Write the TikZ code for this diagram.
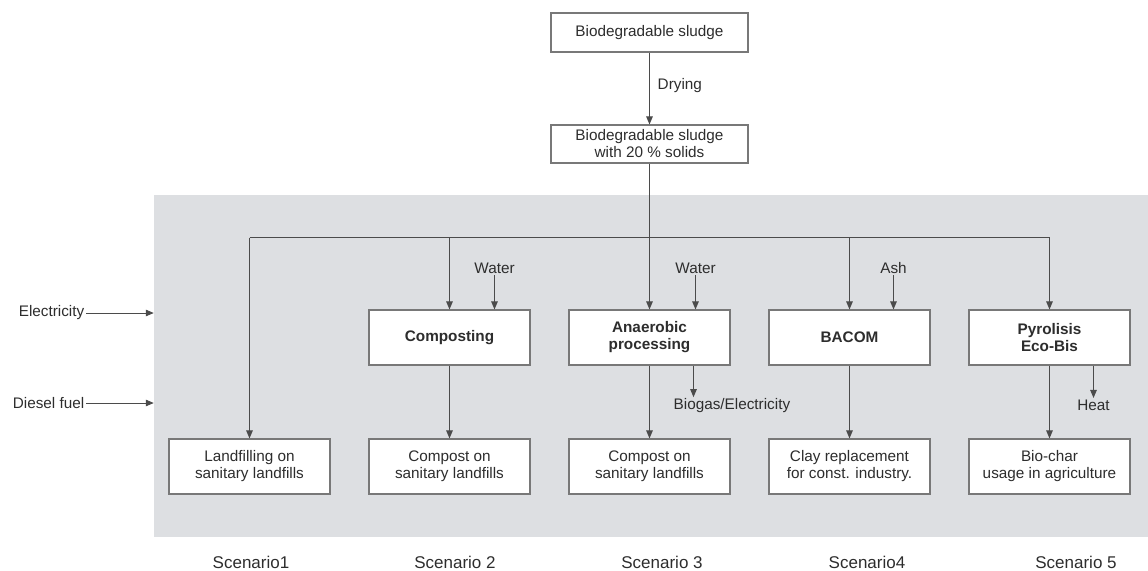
\documentclass[tikz,border=0pt]{standalone}
\usepackage{fontspec}
\setmainfont{Liberation Sans}
\usetikzlibrary{arrows.meta,calc}
\definecolor{panelgrey}{RGB}{221,223,226}
\definecolor{txt}{RGB}{45,45,45}
\definecolor{wire}{RGB}{75,75,75}
\definecolor{rim}{RGB}{120,120,120}
\begin{document}
\begin{tikzpicture}[x=1pt,y=-1pt,
  every node/.style={text=txt,font=\fontsize{15.3}{17}\selectfont,align=center,inner sep=1.5pt},
  box/.style={draw=rim,line width=1.1pt,fill=white,minimum width=161pt,minimum height=55pt,inner sep=0pt},
  topbox/.style={draw=rim,line width=1.1pt,fill=white,minimum width=197pt,inner sep=0pt},
  bold/.style={font=\fontsize{15.3}{17}\selectfont\bfseries},
  scen/.style={font=\fontsize{17}{19}\selectfont},
  conn/.style={draw=wire,line width=1pt},
  arr/.style={conn,-{Triangle[length=8pt,width=6.5pt]}},
  panel/.style={fill=panelgrey,inner sep=0pt,minimum width=994pt,minimum height=342pt}]
\useasboundingbox (0,0) rectangle (1148,570);
\node[panel] (panel) at (651,366) {};
% top chain
\node[topbox,minimum height=39pt] (sludge) at (649.5,32.5) {Biodegradable sludge};
\node[topbox,minimum height=38pt] (dried) at (649.5,144) {Biodegradable sludge\\with 20 \% solids};
\node[anchor=west] (drying) at (656,86) {Drying};
\draw[arr] (sludge.south) -- (dried.north);
% process boxes
\node[box,bold] (co) at (449.5,337.5) {Composting};
\node[box,bold] (an) at (649.5,337.5) {Anaerobic\\processing};
\node[box,bold] (ba) at (849.5,337.5) {BACOM};
\node[box,bold] (py) at (1049.5,337.5) {Pyrolisis\\Eco-Bis};
% result boxes
\node[box] (lf) at (249.5,466.5) {Landfilling on\\sanitary landfills};
\node[box] (cp2) at (449.5,466.5) {Compost on\\sanitary landfills};
\node[box] (cp3) at (649.5,466.5) {Compost on\\sanitary landfills};
\node[box] (cl) at (849.5,466.5) {Clay replacement\\for const. industry.};
\node[box] (bc) at (1049.5,466.5) {Bio-char\\usage in agriculture};
% distribution line
\coordinate (hline) at (0,237.5);
\draw[conn] (lf.north |- hline) -- (py.north |- hline);
\draw[arr] (dried.south) -- (an.north);
\draw[arr] (lf.north |- hline) -- (lf.north);
\draw[arr] (co.north |- hline) -- (co.north);
\draw[arr] (ba.north |- hline) -- (ba.north);
\draw[arr] (py.north |- hline) -- (py.north);
% inputs
\node (w1) at (494.5,268) {Water};
\node (w2) at (695.5,268) {Water};
\node (ash) at (893.5,268) {Ash};
\draw[arr] (w1.south) -- (w1.south |- co.north);
\draw[arr] (w2.south) -- (w2.south |- an.north);
\draw[arr] (ash.south) -- (ash.south |- ba.north);
% outputs down
\draw[arr] (co.south) -- (cp2.north);
\draw[arr] (an.south) -- (cp3.north);
\draw[arr] (ba.south) -- (cl.north);
\draw[arr] (py.south) -- (bc.north);
% by-products
\node[anchor=west] (bg) at (672,406) {Biogas/Electricity};
\coordinate (bgx) at (693.5,0);
\draw[arr] (an.south -| bgx) -- (bg.north -| bgx);
\node (heat) at (1093.5,405) {Heat};
\draw[arr] (py.south -| heat) -- (heat.north);
% energy inputs
\node[anchor=east] (el) at (86,313) {Electricity};
\node[anchor=east] (df) at (86,403) {Diesel fuel};
\draw[arr] (el.east) -- (panel.west |- el.east);
\draw[arr] (df.east) -- (panel.west |- df.east);
% scenario labels
\node[scen] (s1) at (251,562) {Scenario1};
\node[scen] (s2) at (455,562) {Scenario 2};
\node[scen] (s3) at (662,562) {Scenario 3};
\node[scen] (s4) at (867,562) {Scenario4};
\node[scen] (s5) at (1076,562) {Scenario 5};
\end{tikzpicture}
\end{document}
